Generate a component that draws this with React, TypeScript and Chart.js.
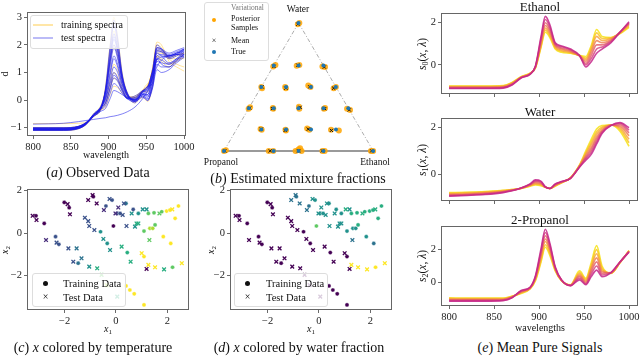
import React, { useEffect, useRef } from "react";
import { Chart, registerables } from "chart.js";
Chart.register(...registerables);

const SERIF = "'Liberation Serif', 'Times New Roman', serif";

// ---------- spectra (panel a, e) ----------
const wavelengths = [800, 820, 840, 860, 870, 880, 890, 896, 902, 907, 912, 918, 925, 935, 945, 952, 958, 964, 970, 980, 990, 1000];

const testSpectra = [
  [-1.08, -1.08, -1.08, -1.02, -0.88, -0.58, -0.3, 0.4, 1.8, 2.7, 2.1, 0.9, 0.2, -0.05, 0.15, 0.0, 0.6, 1.7, 1.6, 1.35, 1.5, 1.75],
  [-1.06, -1.07, -1.07, -1.0, -0.86, -0.56, -0.28, 0.3, 1.5, 2.3, 1.8, 0.8, 0.2, 0.0, 0.2, 0.1, 0.7, 1.8, 1.75, 1.5, 1.6, 1.8],
  [-1.05, -1.06, -1.05, -0.99, -0.85, -0.55, -0.27, 0.2, 1.2, 1.9, 1.5, 0.7, 0.15, 0.0, 0.25, 0.2, 0.8, 1.9, 1.85, 1.6, 1.7, 1.85],
  [-1.04, -1.04, -1.04, -0.98, -0.84, -0.54, -0.26, 0.1, 0.9, 1.5, 1.2, 0.55, 0.1, 0.02, 0.25, 0.3, 0.9, 1.85, 1.8, 1.65, 1.75, 1.85],
  [-1.03, -1.03, -1.03, -0.97, -0.83, -0.54, -0.27, 0.0, 0.7, 1.2, 1.0, 0.45, 0.05, 0.03, 0.3, 0.35, 0.95, 1.75, 1.75, 1.6, 1.7, 1.8],
  [-1.02, -1.02, -1.02, -0.96, -0.82, -0.54, -0.3, -0.1, 0.45, 0.9, 0.75, 0.35, 0.05, 0.05, 0.3, 0.4, 1.0, 1.6, 1.65, 1.6, 1.7, 1.75],
  [-1.0, -1.0, -1.0, -0.95, -0.82, -0.56, -0.33, -0.2, 0.25, 0.6, 0.5, 0.25, 0.05, 0.1, 0.32, 0.45, 1.0, 1.5, 1.6, 1.55, 1.65, 1.7],
  [-1.1, -1.1, -1.1, -1.04, -0.88, -0.5, -0.2, 0.35, 1.4, 2.0, 1.6, 0.7, 0.15, -0.1, 0.3, 0.5, 0.6, 1.5, 1.3, 1.2, 1.4, 1.6],
  [-1.08, -1.08, -1.08, -1.02, -0.86, -0.52, -0.25, 0.05, 0.6, 1.0, 0.8, 0.4, 0.05, -0.05, 0.3, 0.5, 0.8, 1.4, 1.35, 1.3, 1.5, 1.65],
  [-1.0, -1.0, -1.0, -0.95, -0.83, -0.6, -0.4, -0.3, 0.05, 0.35, 0.3, 0.2, 0.1, 0.15, 0.35, 0.5, 1.0, 1.45, 1.55, 1.6, 1.65, 1.65],
  [-1.05, -1.05, -1.05, -1.0, -0.86, -0.55, -0.25, 0.35, 1.6, 2.4, 1.9, 0.85, 0.25, 0.0, 0.2, 0.2, 0.9, 2.0, 1.85, 1.55, 1.65, 1.85],
  [-0.87, -0.86, -0.84, -0.78, -0.74, -0.7, -0.66, -0.64, -0.6, -0.58, -0.55, -0.5, -0.42, -0.25, 0.05, 0.35, 0.8, 1.2, 1.45, 1.6, 1.65, 1.55],
  [-1.06, -1.06, -1.06, -1.0, -0.86, -0.55, -0.26, 0.15, 1.0, 1.6, 1.3, 0.6, 0.15, 0.0, 0.2, 0.15, 0.45, 1.1, 1.0, 1.1, 1.35, 1.55],
  [-1.07, -1.07, -1.07, -1.01, -0.87, -0.56, -0.27, 0.3, 1.4, 2.2, 1.75, 0.8, 0.2, -0.02, 0.15, 0.05, 0.4, 1.3, 1.2, 1.2, 1.45, 1.65],
  [-1.02, -1.02, -1.02, -0.96, -0.82, -0.55, -0.3, -0.1, 0.4, 0.8, 0.68, 0.32, 0.08, 0.08, 0.33, 0.45, 1.1, 1.9, 1.85, 1.7, 1.8, 1.9],
  [-1.09, -1.09, -1.09, -1.03, -0.89, -0.59, -0.3, 0.45, 1.95, 2.9, 2.25, 0.95, 0.25, -0.05, 0.1, -0.02, 0.5, 1.5, 1.45, 1.3, 1.45, 1.65],
];

const trainingSpectra = [
  [-1.08, -1.08, -1.08, -1.03, -0.9, -0.6, -0.3, 0.5, 2.0, 3.0, 2.3, 1.0, 0.25, -0.05, 0.1, -0.05, 0.5, 1.6, 1.5, 1.3, 1.4, 1.6],
  [-1.05, -1.05, -1.05, -1.0, -0.86, -0.55, -0.28, 0.3, 1.3, 2.0, 1.6, 0.75, 0.2, 0.05, 0.3, 0.3, 1.0, 2.1, 2.0, 1.4, 1.2, 1.05],
  [-1.02, -1.02, -1.02, -0.97, -0.84, -0.55, -0.28, 0.05, 0.75, 1.3, 1.1, 0.55, 0.15, 0.1, 0.35, 0.5, 1.1, 2.0, 1.9, 1.5, 1.3, 1.2],
  [-1.0, -1.0, -1.0, -0.95, -0.83, -0.55, -0.32, -0.1, 0.4, 0.8, 0.7, 0.35, 0.1, 0.1, 0.35, 0.55, 1.05, 1.8, 1.75, 1.5, 1.5, 1.5],
  [-1.1, -1.1, -1.1, -1.04, -0.88, -0.5, -0.18, 0.4, 1.7, 2.5, 2.0, 0.9, 0.2, -0.1, 0.35, 0.6, 0.7, 1.6, 1.4, 1.2, 1.45, 1.7],
  [-0.85, -0.85, -0.85, -0.84, -0.8, -0.6, -0.35, -0.1, 0.5, 1.0, 0.85, 0.4, 0.1, 0.1, 0.35, 0.5, 1.1, 1.9, 1.8, 1.55, 1.6, 1.7],
  [-1.0, -1.0, -1.0, -0.95, -0.82, -0.57, -0.35, -0.25, 0.2, 0.5, 0.45, 0.25, 0.1, 0.15, 0.35, 0.55, 1.05, 1.7, 1.7, 1.6, 1.65, 1.7],
];

// mean pure signals, ordered magenta -> yellow
const ethanolSignals = [
  [-1.12, -1.12, -1.12, -1.1, -0.95, -0.62, -0.45, -0.05, 1.3, 2.3, 1.9, 1.05, 0.9, 0.75, 0.45, -0.1, 0.15, 0.55, 0.75, 1.05, 1.55, 2.05],
  [-1.1, -1.1, -1.1, -1.08, -0.93, -0.61, -0.44, -0.07, 1.2, 2.15, 1.78, 1.0, 0.86, 0.72, 0.44, 0.0, 0.3, 0.75, 0.85, 1.1, 1.55, 2.0],
  [-1.08, -1.08, -1.08, -1.06, -0.91, -0.6, -0.43, -0.09, 1.1, 2.0, 1.67, 0.95, 0.8, 0.68, 0.43, 0.08, 0.45, 0.95, 0.95, 1.15, 1.55, 1.97],
  [-1.06, -1.06, -1.06, -1.04, -0.89, -0.59, -0.42, -0.1, 1.0, 1.87, 1.56, 0.9, 0.75, 0.64, 0.43, 0.17, 0.6, 1.15, 1.05, 1.2, 1.55, 1.93],
  [-1.04, -1.04, -1.04, -1.02, -0.87, -0.58, -0.41, -0.12, 0.92, 1.75, 1.46, 0.85, 0.7, 0.6, 0.44, 0.25, 0.72, 1.35, 1.15, 1.25, 1.52, 1.88],
  [-1.02, -1.02, -1.02, -1.0, -0.85, -0.57, -0.4, -0.13, 0.85, 1.65, 1.38, 0.8, 0.65, 0.57, 0.45, 0.32, 0.82, 1.52, 1.25, 1.28, 1.5, 1.83],
  [-1.0, -1.0, -1.0, -0.98, -0.83, -0.56, -0.39, -0.14, 0.8, 1.55, 1.3, 0.75, 0.6, 0.55, 0.46, 0.4, 0.92, 1.68, 1.35, 1.3, 1.48, 1.78],
];
const waterSignals = [
  [-0.95, -0.92, -0.88, -0.8, -0.72, -0.6, -0.42, -0.25, -0.3, -0.55, -0.62, -0.42, -0.32, -0.18, 0.3, 0.6, 0.85, 1.3, 1.75, 2.1, 2.22, 2.0],
  [-0.93, -0.9, -0.86, -0.78, -0.71, -0.6, -0.44, -0.29, -0.33, -0.55, -0.62, -0.44, -0.33, -0.18, 0.32, 0.67, 0.95, 1.4, 1.8, 2.1, 2.19, 1.9],
  [-0.9, -0.88, -0.84, -0.76, -0.7, -0.61, -0.46, -0.33, -0.37, -0.56, -0.62, -0.46, -0.34, -0.17, 0.33, 0.73, 1.05, 1.5, 1.85, 2.11, 2.13, 1.78],
  [-0.88, -0.86, -0.82, -0.75, -0.69, -0.61, -0.47, -0.37, -0.41, -0.56, -0.62, -0.47, -0.35, -0.17, 0.35, 0.8, 1.15, 1.6, 1.9, 2.11, 2.07, 1.65],
  [-0.85, -0.83, -0.79, -0.73, -0.68, -0.61, -0.49, -0.41, -0.44, -0.56, -0.62, -0.49, -0.36, -0.16, 0.36, 0.87, 1.27, 1.72, 1.97, 2.12, 2.0, 1.5],
  [-0.82, -0.8, -0.77, -0.71, -0.67, -0.62, -0.5, -0.44, -0.47, -0.57, -0.62, -0.5, -0.37, -0.16, 0.38, 0.93, 1.38, 1.83, 2.03, 2.12, 1.93, 1.35],
  [-0.8, -0.78, -0.75, -0.7, -0.67, -0.62, -0.52, -0.47, -0.5, -0.57, -0.62, -0.52, -0.38, -0.15, 0.4, 1.0, 1.5, 1.95, 2.1, 2.12, 1.85, 1.2],
];
const propanolSignals = [
  [-1.15, -1.15, -1.15, -1.12, -0.95, -0.5, -0.3, 0.4, 2.0, 3.25, 2.4, 0.95, 0.15, -0.2, 0.15, -0.15, 0.35, 0.75, 0.35, 0.6, 1.25, 1.85],
  [-1.12, -1.12, -1.12, -1.1, -0.93, -0.53, -0.32, 0.35, 1.85, 3.05, 2.27, 0.9, 0.14, -0.2, 0.25, -0.1, 0.5, 1.0, 0.45, 0.6, 1.25, 1.87],
  [-1.08, -1.09, -1.09, -1.07, -0.91, -0.56, -0.34, 0.3, 1.7, 2.85, 2.15, 0.86, 0.13, -0.19, 0.35, -0.05, 0.65, 1.25, 0.55, 0.6, 1.24, 1.89],
  [-1.05, -1.06, -1.06, -1.05, -0.9, -0.59, -0.35, 0.25, 1.6, 2.65, 2.03, 0.82, 0.12, -0.18, 0.43, 0.03, 0.8, 1.5, 0.65, 0.59, 1.23, 1.9],
  [-1.02, -1.03, -1.03, -1.02, -0.88, -0.62, -0.37, 0.2, 1.45, 2.5, 1.9, 0.78, 0.11, -0.17, 0.52, 0.1, 0.92, 1.75, 0.75, 0.58, 1.22, 1.92],
  [-0.98, -1.0, -1.0, -1.0, -0.86, -0.65, -0.39, 0.15, 1.3, 2.3, 1.77, 0.74, 0.1, -0.16, 0.6, 0.18, 1.05, 2.0, 0.87, 0.56, 1.21, 1.93],
  [-0.95, -0.97, -0.97, -0.97, -0.85, -0.68, -0.4, 0.1, 1.2, 2.15, 1.65, 0.7, 0.1, -0.15, 0.7, 0.25, 1.2, 2.25, 1.0, 0.55, 1.2, 1.95],
];

const spectraXTicks = [800, 850, 900, 950, 1000];
const spectraYTicks = [-1, 0, 1, 2, 3];
const signalYTicks = [0, 2];
const latentTicks = [-2, 0, 2];

// ---------- ternary (panel b) ----------
const trueWater = [1, 0.667, 0.667, 0.667, 0.5, 0.5, 0.5, 0.5, 0.333, 0.333, 0.333, 0.333, 0.333, 0.167, 0.167, 0.167, 0.167, 0, 0, 0, 0, 0];
const trueEthanol = [0, 0, 0.167, 0.333, 0, 0.167, 0.333, 0.5, 0, 0.167, 0.333, 0.5, 0.667, 0.167, 0.333, 0.5, 0.667, 0, 0.333, 0.5, 0.667, 1];
const meanWater = [0.99, 0.66, 0.67, 0.655, 0.5, 0.49, 0.5, 0.49, 0.335, 0.33, 0.34, 0.33, 0.32, 0.17, 0.16, 0.17, 0.16, 0, 0, 0, 0, 0];
const meanEthanol = [0, 0.005, 0.16, 0.345, 0.005, 0.17, 0.325, 0.49, 0.005, 0.16, 0.34, 0.51, 0.68, 0.165, 0.33, 0.48, 0.64, 0.005, 0.31, 0.5, 0.66, 0.99];
const sampleWater = [0.99, 1.0, 0.66, 0.67, 0.665, 0.67, 0.66, 0.655, 0.5, 0.49, 0.5, 0.49, 0.51, 0.5, 0.49, 0.5, 0.33, 0.34, 0.33, 0.335, 0.345, 0.33, 0.33, 0.335, 0.33, 0.32, 0.17, 0.165, 0.165, 0.16, 0.175, 0.165, 0.165, 0.16, 0, 0.005, 0, 0, 0.01, 0.02, 0, 0, 0, 0, 0, 0];
const sampleEthanol = [0.0, 0.005, 0.0, 0.01, 0.155, 0.17, 0.33, 0.35, 0.0, 0.01, 0.16, 0.17, 0.31, 0.33, 0.49, 0.5, 0.0, 0.005, 0.165, 0.16, 0.33, 0.34, 0.505, 0.51, 0.66, 0.685, 0.16, 0.17, 0.33, 0.335, 0.47, 0.49, 0.635, 0.69, 0, 0.01, 0.3, 0.33, 0.495, 0.5, 0.48, 0.52, 0.66, 0.675, 0.985, 1.0];

// ---------- latent space (panels c, d): x1, x2, temperature level, water level, isTest ----------
const latentPoints = [
  [-3.24, 0.81, 0, 0, 1], [-3.11, 0.81, 0, 0, 0], [-3.09, 0.61, 0, 0, 1], [-2.79, 0.45, 0, 0, 0],
  [-2.72, -0.33, 1, 0, 1], [-2.35, -0.17, 2, 0, 0], [-2.31, -0.45, 2, 0, 1], [-2.22, -0.53, 2, 0, 0],
  [-1.85, -0.72, 2, 0, 1], [-1.53, -0.72, 3, 0, 1], [-2.01, 1.44, 0, 0, 0], [-1.88, 1.36, 0, 0, 1],
  [-1.82, 1.19, 0, 0, 0], [-1.79, 0.88, 0, 0, 1], [-1.66, -1.35, 2, 0, 1], [-1.47, -1.42, 3, 0, 0],
  [-1.34, -1.19, 3, 0, 1], [-1.21, 0.72, 2, 0, 1], [-1.08, 0.56, 2, 0, 1], [-1.04, 0.33, 2, 0, 1],
  [-0.84, 0.14, 2, 0, 1], [-1.04, -1.58, 4, 0, 1], [-0.73, -1.66, 5, 0, 1], [-0.91, 1.78, 0, 3, 1],
  [-0.88, 1.71, 0, 3, 0], [-1.08, 1.55, 0, 3, 1], [-0.75, 1.39, 0, 3, 1], [-0.6, 0.06, 4, 0, 0],
  [-0.49, -0.28, 4, 0, 1], [-0.34, -0.49, 4, 0, 0], [-0.23, -0.8, 4, 0, 1], [-0.56, -1.97, 6, 0, 1],
  [-0.47, 1.08, 1, 3, 1], [-0.39, 1.27, 2, 3, 0], [-0.25, 1.6, 2, 4, 1], [-0.15, 1.55, 2, 4, 0],
  [-0.1, 0.33, 0, 6, 0], [-0.02, 0.92, 1, 4, 1], [0.05, 0.92, 2, 4, 0], [0.09, 1.2, 1, 4, 1],
  [0.16, 0.92, 2, 4, 0], [0.26, 0.85, 2, 4, 1], [0.31, 1.39, 2, 4, 1], [0.39, 1.39, 3, 4, 0],
  [0.22, -0.64, 5, 0, 1], [0.41, 0.33, 2, 4, 1], [0.44, -0.92, 5, 0, 0], [0.57, -1.35, 5, 0, 1],
  [0.61, 0.92, 4, 4, 1], [0.67, 1.11, 2, 4, 0], [0.74, 0.3, 4, 4, 1], [0.8, 0.45, 5, 4, 1],
  [0.87, 0.45, 5, 4, 1], [0.87, 0.92, 4, 4, 0], [1.04, 1.11, 4, 5, 1], [1.09, 0.09, 6, 4, 0],
  [1.19, 1.11, 4, 4, 1], [1.26, 0.92, 6, 5, 0], [1.3, -0.33, 6, 3, 1], [1.32, 0.22, 7, 4, 0],
  [1.43, 0.22, 7, 4, 0], [1.48, 0.95, 6, 5, 0], [1.52, 0.38, 6, 5, 0], [1.69, 0.92, 6, 5, 1],
  [1.78, 1.0, 6, 5, 0], [1.84, -0.17, 8, 4, 0], [1.97, 1.03, 8, 5, 0], [2.1, 1.08, 8, 5, 0],
  [2.19, 1.11, 8, 5, 1], [2.13, -0.49, 8, 3, 0], [2.3, 0.69, 8, 5, 0], [2.43, 1.27, 8, 5, 0],
  [2.56, -1.42, 8, 8, 1], [2.2, -1.61, 6, 8, 0], [1.87, -1.71, 5, 8, 1], [1.52, -1.61, 8, 8, 1],
  [1.19, -1.69, 0, 0, 1], [1.0, -0.95, 8, 0, 1], [1.09, -1.11, 8, 0, 0], [1.26, -1.5, 8, 8, 1],
  [0.39, -2.49, 8, 0, 0], [0.54, -2.68, 8, 0, 0], [0.71, -2.86, 8, 0, 0], [1.09, -3.38, 8, 0, 0],
  [0.05, -2.99, 5, 0, 1], [-0.36, -2.45, 7, 0, 1],
];

const VIRIDIS = ["#440154", "#472d7b", "#3b528b", "#2c728e", "#21918c", "#28ae80", "#5ec962", "#addc30", "#fde725"];
const SIGNAL_COLORS = ["rgba(196,38,138,0.85)", "rgba(212,62,122,0.8)", "rgba(226,92,104,0.8)", "rgba(238,124,80,0.8)", "rgba(246,160,55,0.8)", "rgba(249,196,38,0.85)", "rgba(246,228,36,0.9)"];

// ---------- helpers ----------
const fmt = (v: number) => (v < 0 ? "\u2212" + Math.abs(v) : String(v));

const framePlugin = {
  id: "frame",
  afterDatasetsDraw(chart: any) {
    const { ctx, chartArea } = chart;
    const { left, top, right, bottom } = chartArea;
    ctx.save();
    ctx.strokeStyle = "#666";
    ctx.lineWidth = 1;
    ctx.strokeRect(Math.round(left) + 0.5, Math.round(top) + 0.5, Math.round(right - left) - 1, Math.round(bottom - top) - 1);
    ctx.restore();
  },
};

function axis(min: number, max: number, ticks: number[], size: number, showLabels = true) {
  return {
    type: "linear",
    min,
    max,
    afterBuildTicks: (s: any) => {
      s.ticks = ticks.map((v) => ({ value: v }));
    },
    afterFit: (s: any) => {
      if (s.isHorizontal()) s.height = size;
      else s.width = size;
      s.paddingLeft = 0;
      s.paddingRight = 0;
      s.paddingTop = 0;
      s.paddingBottom = 0;
    },
    grid: { display: true, drawOnChartArea: false, drawTicks: true, tickLength: 3, color: "#444", lineWidth: 0.8 },
    border: { display: false },
    ticks: {
      display: showLabels,
      font: { family: SERIF, size: 10.5 },
      color: "#222",
      padding: 2,
      maxRotation: 0,
      autoSkip: false,
      callback: (v: number) => fmt(v),
    },
  };
}

type Box = { l: number; t: number; r: number; b: number };
const PT = 6;
const PR = 14;

function CartChart({ box, yW, xH, make }: { box: Box; yW: number; xH: number; make: () => any }) {
  const ref = useRef<HTMLCanvasElement>(null);
  const w = box.r - box.l + yW + PR;
  const h = box.b - box.t + PT + xH;
  useEffect(() => {
    const cfg = make();
    cfg.options.layout = { padding: { left: 0, top: PT, right: PR, bottom: 0 } };
    const c = new Chart(ref.current as HTMLCanvasElement, cfg);
    return () => c.destroy();
  }, []);
  return (
    <canvas
      ref={ref}
      width={w}
      height={h}
      style={{ position: "absolute", left: box.l - yW, top: box.t - PT, width: w, height: h }}
    />
  );
}

const baseOptions = () => ({
  animation: false,
  responsive: false,
  devicePixelRatio: 1,
  plugins: { legend: { display: false }, tooltip: { enabled: false } },
});

function lineSets(list: number[][], colorOf: (i: number) => string, width: number) {
  return list.map((arr, i) => ({
    data: arr.map((v, j) => ({ x: wavelengths[j], y: v })),
    borderColor: colorOf(i),
    borderWidth: width,
    pointRadius: 0,
    cubicInterpolationMode: "monotone",
    fill: false,
  }));
}

const observedConfig = () => ({
  type: "line",
  data: {
    datasets: [
      ...lineSets(testSpectra, () => "rgba(25,25,235,0.55)", 1),
      ...lineSets(trainingSpectra, () => "rgba(255,196,40,0.45)", 1),
    ],
  },
  options: {
    ...baseOptions(),
    scales: {
      x: axis(792, 1002.5, spectraXTicks, 17),
      y: axis(-1.3, 3.19, spectraYTicks, 18),
    },
  },
  plugins: [framePlugin],
});

const signalConfig = (list: number[][], ymin: number, ymax: number, showX: boolean) => () => ({
  type: "line",
  data: { datasets: lineSets(list, (i) => SIGNAL_COLORS[i], 1.6) },
  options: {
    ...baseOptions(),
    scales: {
      x: axis(791, 1010, spectraXTicks, showX ? 17 : 4, showX),
      y: axis(ymin, ymax, signalYTicks, 13),
    },
  },
  plugins: [framePlugin],
});

const latentConfig = (colorIndex: number) => () => {
  const train = latentPoints.filter((p) => p[4] === 0);
  const test = latentPoints.filter((p) => p[4] === 1);
  return {
    type: "scatter",
    data: {
      datasets: [
        {
          data: test.map((p) => ({ x: p[0], y: p[1] })),
          pointStyle: "crossRot",
          pointRadius: 2.6,
          pointBorderWidth: 1.3,
          pointBorderColor: test.map((p) => VIRIDIS[p[colorIndex]]),
          pointBackgroundColor: test.map((p) => VIRIDIS[p[colorIndex]]),
        },
        {
          data: train.map((p) => ({ x: p[0], y: p[1] })),
          pointStyle: "circle",
          pointRadius: 2.1,
          pointBorderWidth: 0.6,
          pointBorderColor: "rgba(255,255,255,0.7)",
          pointBackgroundColor: train.map((p) => VIRIDIS[p[colorIndex]]),
        },
      ],
    },
    options: {
      ...baseOptions(),
      scales: {
        x: axis(-3.46, 2.84, latentTicks, 17),
        y: axis(-3.62, 2.07, latentTicks, 20),
      },
    },
    plugins: [framePlugin],
  };
};

const SQ3 = Math.sqrt(3) / 2;
const tern = (w: number, e: number) => ({ x: e + w / 2, y: w * SQ3 });

function TernaryChart() {
  const ref = useRef<HTMLCanvasElement>(null);
  useEffect(() => {
    const cfg: any = {
      type: "scatter",
      data: {
        datasets: [
          {
            data: trueWater.map((w, i) => tern(w, trueEthanol[i])),
            pointStyle: "circle",
            pointRadius: 2,
            pointBorderWidth: 0,
            pointBackgroundColor: "#1f77b4",
          },
          {
            data: meanWater.map((w, i) => tern(w, meanEthanol[i])),
            pointStyle: "crossRot",
            pointRadius: 2.3,
            pointBorderWidth: 1,
            pointBorderColor: "#111",
          },
          {
            data: sampleWater.map((w, i) => tern(w, sampleEthanol[i])),
            pointStyle: "circle",
            pointRadius: 3,
            pointBorderWidth: 0,
            pointBackgroundColor: "rgba(255,165,0,0.85)",
          },
          {
            data: [tern(0, 0), tern(1, 0)],
            showLine: true,
            borderColor: "#888",
            borderWidth: 0.7,
            borderDash: [4, 2, 1, 2],
            pointRadius: 0,
          },
          {
            data: [tern(0, 1), tern(1, 0)],
            showLine: true,
            borderColor: "#888",
            borderWidth: 0.7,
            borderDash: [4, 2, 1, 2],
            pointRadius: 0,
          },
          {
            data: [tern(0, 0), tern(0, 1)],
            showLine: true,
            borderColor: "#9a9a9a",
            borderWidth: 2,
            pointRadius: 0,
          },
        ],
      },
      options: {
        ...baseOptions(),
        layout: { padding: 0 },
        scales: {
          x: { type: "linear", display: false, min: -0.1274, max: 1.1465 },
          y: { type: "linear", display: false, min: -0.0955, max: 0.987 },
        },
      },
    };
    const c = new Chart(ref.current as HTMLCanvasElement, cfg);
    return () => c.destroy();
  }, []);
  return <canvas ref={ref} width={200} height={170} style={{ position: "absolute", left: 200, top: 0, width: 200, height: 170 }} />;
}

// ---------- text helpers ----------
function T({ x, y, size, children, rot, anchor = "center" }: any) {
  const tx = anchor === "center" ? "-50%" : anchor === "left" ? "0%" : "-100%";
  return (
    <div
      style={{
        position: "absolute",
        left: x,
        top: y,
        transform: `translate(${tx},-50%)${rot ? " rotate(-90deg)" : ""}`,
        whiteSpace: "nowrap",
        fontFamily: SERIF,
        fontSize: size,
        color: "#111",
        lineHeight: 1,
      }}
    >
      {children}
    </div>
  );
}

const sub = (s: string) => <sub style={{ fontSize: "0.7em", verticalAlign: "-0.25em" }}>{s}</sub>;

export default function App() {
  const boxA = { l: 27, t: 12, r: 186, b: 136 };
  const boxC = { l: 27, t: 189, r: 189, b: 310 };
  const boxD = { l: 230, t: 189, r: 392, b: 310 };
  const boxE0 = { l: 441, t: 13, r: 638, b: 94 };
  const boxE1 = { l: 441, t: 118, r: 638, b: 201 };
  const boxE2 = { l: 441, t: 226, r: 638, b: 306 };
  return (
    <div style={{ position: "absolute", left: 0, top: 0, width: 640, height: 357, background: "#fff", overflow: "hidden" }}>
      {/* (a) */}
      <CartChart box={boxA} yW={18} xH={17} make={observedConfig} />
      <div style={{ position: "absolute", left: 30, top: 15, width: 96, height: 32, border: "1px solid #ddd", borderRadius: 3, background: "rgba(255,255,255,0.8)" }} />
      <div style={{ position: "absolute", left: 33, top: 24, width: 20, height: 2, background: "rgba(255,205,80,0.5)" }} />
      <div style={{ position: "absolute", left: 33, top: 37, width: 20, height: 2, background: "rgba(120,120,240,0.5)" }} />
      <T x={61} y={25} size={10} anchor="left">training spectra</T>
      <T x={61} y={38} size={10} anchor="left">test spectra</T>
      <T x={5} y={74} size={10} rot>d</T>
      <T x={106} y={155} size={10}>wavelength</T>
      <T x={98} y={173} size={14}>(<i>a</i>) Observed Data</T>

      {/* (b) */}
      <TernaryChart />
      <div style={{ position: "absolute", left: 204, top: 2, width: 63, height: 57, border: "1px solid #ddd", borderRadius: 3, background: "rgba(255,255,255,0.85)" }} />
      <T x={231} y={8} size={7.5} anchor="left"><span style={{ color: "#777" }}>Variational</span></T>
      <T x={231} y={19} size={8} anchor="left">Posterior</T>
      <T x={231} y={28} size={8} anchor="left">Samples</T>
      <T x={231} y={41} size={8} anchor="left">Mean</T>
      <T x={231} y={52} size={8} anchor="left">True</T>
      <div style={{ position: "absolute", left: 212, top: 18, width: 4, height: 4, borderRadius: 2, background: "orange" }} />
      <T x={214} y={41} size={8}>×</T>
      <div style={{ position: "absolute", left: 212, top: 50, width: 4, height: 4, borderRadius: 2, background: "#1f77b4" }} />
      <T x={298} y={10} size={9.5}>Water</T>
      <T x={221} y={163} size={9.5}>Propanol</T>
      <T x={375} y={163} size={9.5}>Ethanol</T>
      <T x={298} y={179} size={14}>(<i>b</i>) Estimated mixture fractions</T>

      {/* (c) */}
      <CartChart box={boxC} yW={20} xH={17} make={latentConfig(2)} />
      <div style={{ position: "absolute", left: 32, top: 273, width: 92, height: 32, border: "1px solid #ddd", borderRadius: 3, background: "rgba(255,255,255,0.8)" }} />
      <div style={{ position: "absolute", left: 43, top: 281, width: 5, height: 5, borderRadius: 3, background: "#111" }} />
      <T x={45.5} y={297} size={10}>×</T>
      <T x={63} y={284} size={10.5} anchor="left">Training Data</T>
      <T x={63} y={298} size={10.5} anchor="left">Test Data</T>
      <T x={6} y={250} size={10} rot><i>x</i>{sub("2")}</T>
      <T x={108} y={330} size={10}><i>x</i>{sub("1")}</T>
      <T x={93} y={348} size={14}>(<i>c</i>) <i>x</i> colored by temperature</T>

      {/* (d) */}
      <CartChart box={boxD} yW={20} xH={17} make={latentConfig(3)} />
      <div style={{ position: "absolute", left: 234, top: 273, width: 92, height: 32, border: "1px solid #ddd", borderRadius: 3, background: "rgba(255,255,255,0.8)" }} />
      <div style={{ position: "absolute", left: 245, top: 281, width: 5, height: 5, borderRadius: 3, background: "#111" }} />
      <T x={247.5} y={297} size={10}>×</T>
      <T x={266} y={284} size={10.5} anchor="left">Training Data</T>
      <T x={266} y={298} size={10.5} anchor="left">Test Data</T>
      <T x={212} y={250} size={10} rot><i>x</i>{sub("2")}</T>
      <T x={311} y={330} size={10}><i>x</i>{sub("1")}</T>
      <T x={299} y={348} size={14}>(<i>d</i>) <i>x</i> colored by water fraction</T>

      {/* (e) */}
      <CartChart box={boxE0} yW={13} xH={4} make={signalConfig(ethanolSignals, -1.38, 2.46, false)} />
      <CartChart box={boxE1} yW={13} xH={4} make={signalConfig(waterSignals, -1.16, 2.42, false)} />
      <CartChart box={boxE2} yW={13} xH={17} make={signalConfig(propanolSignals, -1.45, 3.45, true)} />
      <T x={540} y={6} size={13}>Ethanol</T>
      <T x={540} y={111} size={13}>Water</T>
      <T x={540} y={219} size={13}>2-Propanol</T>
      <T x={424} y={54} size={11.5} rot><i>s</i>{sub("0")}(<i>x</i>, <i>λ</i>)</T>
      <T x={424} y={160} size={11.5} rot><i>s</i>{sub("1")}(<i>x</i>, <i>λ</i>)</T>
      <T x={424} y={266} size={11.5} rot><i>s</i>{sub("2")}(<i>x</i>, <i>λ</i>)</T>
      <T x={540} y={328} size={10}>wavelengths</T>
      <T x={540} y={348} size={14}>(<i>e</i>) Mean Pure Signals</T>
    </div>
  );
}
